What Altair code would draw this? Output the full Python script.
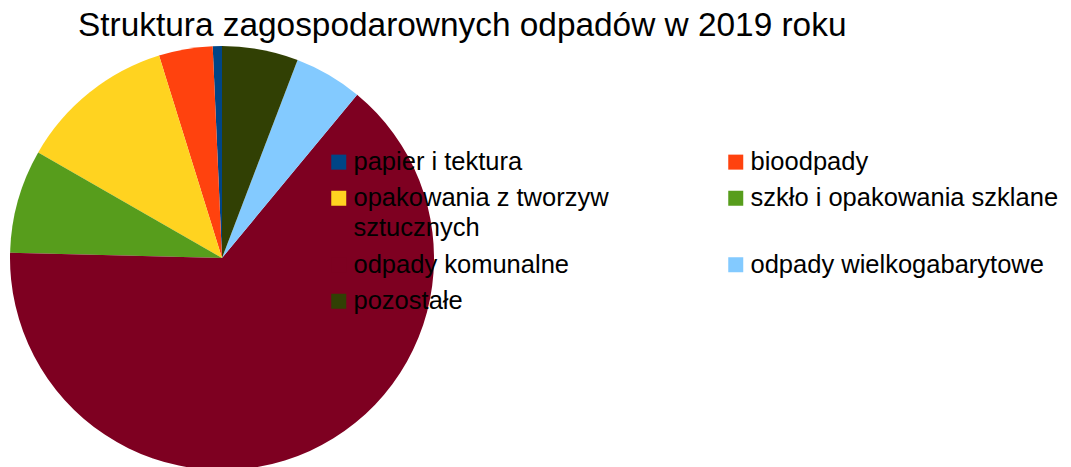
import altair as alt
import pandas as pd

categories = [
    "papier i tektura",
    "bioodpady",
    "opakowania z tworzyw sztucznych",
    "szkło i opakowania szklane",
    "odpady komunalne",
    "odpady wielkogabarytowe",
    "pozostałe",
]
shares = [0.7, 4.1, 11.9, 7.9, 64.4, 5.2, 5.8]
colors = ["#004586", "#ff420e", "#ffd320", "#579d1c", "#7e0021", "#83caff", "#314004"]

df = pd.DataFrame({"kategoria": categories, "udzial": shares, "idx": list(range(len(categories)))})

FONT = "Liberation Sans"

chart = alt.Chart(df).mark_arc(stroke=None).encode(
    theta=alt.Theta("udzial:Q", stack=True),
    order=alt.Order("idx:Q", sort="descending"),
    color=alt.Color(
        "kategoria:N",
        sort=categories,
        scale=alt.Scale(domain=categories, range=colors),
        legend=alt.Legend(
            title=None,
            orient="none",
            direction="horizontal",
            legendX=326,
            legendY=99,
            columns=2,
            columnPadding=114,
            rowPadding=9.5,
            symbolType="square",
            symbolSize=225,
            symbolStrokeWidth=0,
            labelOffset=2,
            labelFont=FONT,
            labelFontSize=25.5,
            labelColor="#000000",
            labelLimit=500,
            labelBaseline="middle",
            labelExpr="datum.label == 'opakowania z tworzyw sztucznych' ? ['opakowania z tworzyw', 'sztucznych'] : datum.label",
            padding=0,
        ),
    ),
    x=alt.value(222),
    y=alt.value(208),
    radius=alt.value(212),
).properties(
    width=1071,
    height=417,
    padding={"left": 0, "top": 50, "right": 0, "bottom": 0},
    autosize=alt.AutoSizeParams(type="none"),
    title=alt.TitleParams(
        "Struktura zagospodarownych odpadów w 2019 roku",
        anchor="start",
        dx=78,
        dy=35,
        offset=12,
        baseline="alphabetic",
        font=FONT,
        fontSize=33.4,
        fontWeight="normal",
        color="#000000",
    ),
).configure(style={"guide-label": {"lineHeight": 30}}).configure_view(stroke=None)

chart.save("out.html", embed_options={"renderer": "svg", "actions": False})
